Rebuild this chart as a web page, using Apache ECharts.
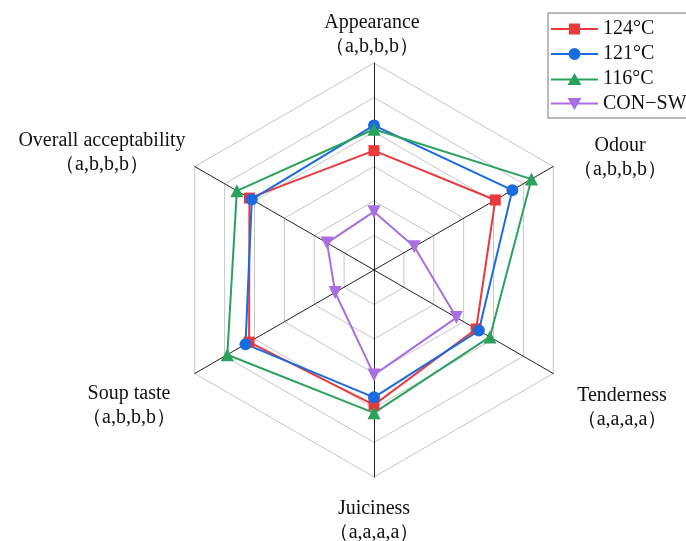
<!DOCTYPE html>
<html><head><meta charset="utf-8">
<script src="https://cdn.jsdelivr.net/npm/echarts@6/dist/echarts.min.js"></script>
<style>html,body{margin:0;padding:0;background:#fff}#c{width:686px;height:541px}</style>
</head><body><div id="c"></div>
<script>
// indicators in ECharts (counter-clockwise from top) order
const categories = ['Appearance', 'Overall acceptability', 'Soup taste', 'Juiciness', 'Tenderness', 'Odour'];
const letters = ['（a,b,b,b）', '（a,b,b,b）', '（a,b,b,b）', '（a,a,a,a）', '（a,a,a,a）', '（a,b,b,b）'];
const seriesNames = ['124°C', '121°C', '116°C', 'CON−SW'];
const v124 = [3.46, 4.17, 4.18, 3.91, 3.42, 4.06];
const v121 = [4.19, 4.09, 4.30, 3.69, 3.51, 4.63];
const v116 = [4.08, 4.59, 4.91, 4.14, 3.88, 5.27];
const vCON = [1.69, 1.57, 1.30, 3.04, 2.76, 1.35];
const axisMax = 6;

const colors = ['#e8393d', '#1a6ae0', '#2ba25c', '#a86fe0'];
const symbols = ['rect', 'circle', 'triangle', 'triangle'];
const symbolSizes = [11, 12, 13, 13];
const rotates = [0, 0, 0, 180];
const values = [v124, v121, v116, vCON];
// legend icons: line with the series marker in the middle
const lineBar = 'M0,6H47V8H0Z ';
const legendIcons = [
  'path://' + lineBar + 'M18,1.5H29V12.5H18Z',
  'path://' + lineBar + 'M17.5,7A6,6,0,1,1,29.5,7A6,6,0,1,1,17.5,7Z',
  'path://' + lineBar + 'M23.5,0.5L30.5,12.5H16.5Z',
  'path://' + lineBar + 'M16.5,1.5H30.5L23.5,13.5Z'
];

const serif = '"Liberation Serif","Times New Roman",serif';
const labelPos = [[372, 35], [102, 153], [129, 406], [374, 521], [622, 408], [620, 158]];

const chart = echarts.init(document.getElementById('c'));
chart.setOption({
  animation: false,
  backgroundColor: '#fff',
  legend: {
    left: 548, top: 13, orient: 'vertical',
    padding: [6, 4, 4, 3],
    itemWidth: 47, itemHeight: 14, itemGap: 5,
    borderColor: '#777', borderWidth: 1,
    textStyle: { fontFamily: serif, fontSize: 20, color: '#111' },
    data: seriesNames.map((n, i) => ({ name: n, icon: legendIcons[i], itemStyle: { color: colors[i] } }))
  },
  radar: {
    center: [374, 270], radius: 207, startAngle: 90,
    shape: 'polygon', splitNumber: 6,
    indicator: categories.map(n => ({ name: n, min: 0, max: axisMax })),
    axisName: { show: false },
    axisLine: { lineStyle: { color: '#222', width: 1 } },
    splitLine: { lineStyle: { color: '#c8c8c8', width: 1 } },
    splitArea: { show: false }
  },
  graphic: categories.map((n, i) => ({
    type: 'text', x: labelPos[i][0], y: labelPos[i][1],
    style: {
      text: n + '\n' + letters[i],
      font: '20px ' + serif,
      fill: '#111', align: 'center', verticalAlign: 'middle', lineHeight: 24
    }
  })),
  series: seriesNames.map((n, i) => ({
    type: 'radar', name: n,
    symbol: symbols[i], symbolSize: symbolSizes[i], symbolRotate: rotates[i],
    lineStyle: { color: colors[i], width: 2 },
    itemStyle: { color: colors[i] },
    data: [{ value: values[i], name: n }]
  }))
});
</script></body></html>
